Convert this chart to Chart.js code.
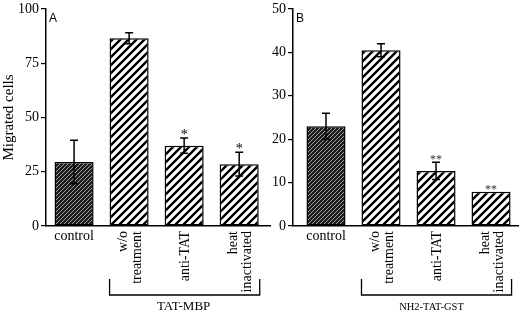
<!DOCTYPE html>
<html lang="en">
<head>
  <meta charset="UTF-8" />
  <title>Migrated cells</title>
  <script src="https://cdn.jsdelivr.net/npm/chart.js"></script>
  <style>
    body { margin: 0; background: #fff; }
    #wrap { position: relative; width: 520px; height: 312px; }
    canvas { position: absolute; top: 0; }
    #chartA { left: 0; }
    #chartB { left: 272px; }
  </style>
</head>
<body>
  <div id="wrap">
    <canvas id="chartA" width="272" height="312"></canvas>
    <canvas id="chartB" width="248" height="312"></canvas>
  </div>

  <script>
    // --- data ---
    const categories = [["control"], ["w/o", "treatment"], ["anti-TAT"], ["heat", "inactivated"]];

    const meansA = [29.5, 86.5, 37, 28.5];
    const errorsA = [10, 2.5, 3.5, 5.5];
    const starsA = ["", "", "*", "*"];
    const groupA = "TAT-MBP";

    const meansB = [23, 40.5, 12.7, 7.9];
    const errorsB = [3, 1.5, 2, 0];
    const starsB = ["", "", "**", "**"];
    const groupB = "NH2-TAT-GST";

    const SERIF = '"Liberation Serif", "DejaVu Serif", serif';
    const SANS = '"Liberation Sans", Arial, sans-serif';

    function hatch(bg, fg, size, lw) {
      const c = document.createElement("canvas");
      c.width = c.height = size;
      const g = c.getContext("2d");
      g.fillStyle = bg;
      g.fillRect(0, 0, size, size);
      g.strokeStyle = fg;
      g.lineWidth = lw;
      g.beginPath();
      g.moveTo(-2, 2); g.lineTo(2, -2);
      g.moveTo(0, size); g.lineTo(size, 0);
      g.moveTo(size - 2, size + 2); g.lineTo(size + 2, size - 2);
      g.stroke();
      return g.createPattern(c, "repeat");
    }

    const darkFill = hatch("#1c1c1c", "#a0a0a0", 4, 1);
    const lightFill = hatch("#ffffff", "#000000", 8, 2.4);

    // error bars + significance stars
    const errorBars = {
      id: "errorBars",
      afterDatasetsDraw(chart, args, opts) {
        const ctx = chart.ctx;
        const y = chart.scales.y;
        const meta = chart.getDatasetMeta(0);
        ctx.save();
        ctx.strokeStyle = "#000";
        ctx.lineWidth = 1.5;
        meta.data.forEach((bar, i) => {
          const v = opts.means[i], e = opts.errors[i];
          let top = y.getPixelForValue(v);
          if (e > 0) {
            const hi = y.getPixelForValue(v + e);
            const lo = y.getPixelForValue(v - e);
            ctx.beginPath();
            ctx.moveTo(bar.x, lo); ctx.lineTo(bar.x, hi);
            ctx.moveTo(bar.x - 4, hi); ctx.lineTo(bar.x + 4, hi);
            ctx.moveTo(bar.x - 4, lo); ctx.lineTo(bar.x + 4, lo);
            ctx.stroke();
            top = hi;
          }
          if (opts.stars[i]) {
            ctx.fillStyle = opts.starColor;
            ctx.font = opts.starSize + "px " + SERIF;
            ctx.textAlign = "center";
            ctx.textBaseline = "alphabetic";
            ctx.fillText(opts.stars[i], bar.x, top + 1);
          }
        });
        ctx.restore();
      }
    };

    // category labels, bracket, group label, panel letter
    const decorations = {
      id: "decorations",
      afterDraw(chart, args, opts) {
        const ctx = chart.ctx;
        const area = chart.chartArea;
        const bars = chart.getDatasetMeta(0).data;
        ctx.save();
        ctx.fillStyle = "#000";
        ctx.font = "14px " + SERIF;
        bars.forEach((bar, i) => {
          const lines = categories[i];
          if (i === 0) {
            ctx.textAlign = "center";
            ctx.textBaseline = "alphabetic";
            ctx.fillText(lines[0], bar.x, area.bottom + 14);
          } else {
            ctx.save();
            ctx.translate(bar.x + 1, area.bottom + 5);
            ctx.rotate(-Math.PI / 2);
            ctx.textAlign = "right";
            ctx.textBaseline = "middle";
            lines.forEach((t, k) => ctx.fillText(t, 0, (k - (lines.length - 1) / 2) * 14));
            ctx.restore();
          }
        });

        // bracket under the treated groups
        const left = bars[1].x - bars[1].width / 2;
        const right = bars[3].x + bars[3].width / 2 + 1;
        const yTop = area.bottom + 53, yBot = area.bottom + 69;
        ctx.strokeStyle = "#000";
        ctx.lineWidth = 1.3;
        ctx.beginPath();
        ctx.moveTo(left, yTop); ctx.lineTo(left, yBot);
        ctx.lineTo(right, yBot); ctx.lineTo(right, yTop);
        ctx.stroke();
        ctx.font = opts.groupSize + "px " + SERIF;
        ctx.textAlign = "center";
        ctx.textBaseline = "alphabetic";
        ctx.fillText(opts.group, (left + right) / 2 + opts.groupShift, 310);

        ctx.font = "12px " + SANS;
        ctx.textAlign = "left";
        ctx.textBaseline = "top";
        ctx.fillText(opts.letter, area.left + 3, 13);
        ctx.restore();
      }
    };

    function makeChart(id, means, errors, stars, cfg) {
      return new Chart(document.getElementById(id), {
        type: "bar",
        data: {
          datasets: [{
            data: means.map((v, i) => ({ x: i, y: v })),
            backgroundColor: [darkFill, lightFill, lightFill, lightFill],
            borderColor: "#000",
            borderWidth: 1.5,
            borderSkipped: false,
            barPercentage: 0.71,
            categoryPercentage: 1
          }]
        },
        options: {
          responsive: false,
          animation: false,
          layout: { padding: { top: cfg.top, right: 2, left: 0, bottom: 0 } },
          plugins: {
            legend: { display: false },
            tooltip: { enabled: false },
            errorBars: { means, errors, stars, starSize: cfg.starSize, starColor: cfg.starColor },
            decorations: { group: cfg.group, groupSize: cfg.groupSize, groupShift: cfg.groupShift, letter: cfg.letter }
          },
          scales: {
            x: {
              type: "linear",
              offset: false,
              min: cfg.xMin,
              max: cfg.xMax,
              afterBuildTicks: s => { s.ticks = [0, 1, 2, 3].map(v => ({ value: v })); },
              afterFit: s => { s.height = 86; },
              ticks: { display: false },
              grid: { display: false, offset: false },
              border: { display: true, color: "#000", width: 1.5 }
            },
            y: {
              min: 0,
              max: cfg.yMax,
              afterFit: s => { s.width = cfg.yWidth; },
              ticks: {
                stepSize: cfg.step,
                color: "#000",
                padding: 2,
                font: { family: SERIF, size: 14, lineHeight: 1 }
              },
              grid: { display: true, drawOnChartArea: false, drawTicks: true, tickLength: 5, color: "#000", lineWidth: 1.2 },
              border: { display: true, color: "#000", width: 1.5 },
              title: {
                display: cfg.title !== "",
                text: cfg.title,
                color: "#000",
                padding: 0,
                font: { family: SERIF, size: 15 }
              }
            }
          }
        },
        plugins: [errorBars, decorations]
      });
    }

    makeChart("chartA", meansA, errorsA, starsA, {
      top: 7, yMax: 100, step: 25, yWidth: 46, xMin: -0.51, xMax: 3.56,
      title: "Migrated cells", group: groupA, groupSize: 13, groupShift: -1, letter: "A",
      starSize: 14, starColor: "#000"
    });

    makeChart("chartB", meansB, errorsB, starsB, {
      top: 9, yMax: 50, step: 10, yWidth: 21, xMin: -0.6, xMax: 3.49,
      title: "", group: groupB, groupSize: 10.5, groupShift: -5, letter: "B",
      starSize: 12, starColor: "#333"
    });
  </script>
</body>
</html>
